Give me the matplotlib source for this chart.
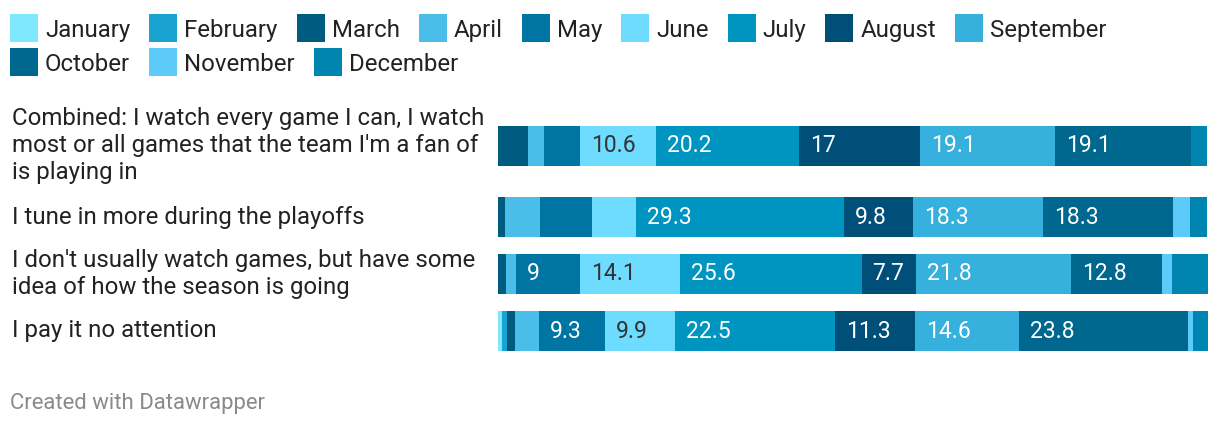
import matplotlib.pyplot as plt
from matplotlib.patches import Rectangle
from matplotlib.colors import to_rgb

plt.rcParams['font.family'] = ['Roboto', 'DejaVu Sans']

# DATA
months = ["January", "February", "March", "April", "May", "June", "July",
          "August", "September", "October", "November", "December"]
colors = ["#7fe8ff", "#1aa3d0", "#005b80", "#4abde9", "#0074a2", "#6ddcff",
          "#0094c0", "#004f78", "#36b0dc", "#00678f", "#5ccbfa", "#0084b0"]

categories = [
    "Combined: I watch every game I can, I watch\nmost or all games that the team I'm a fan of\nis playing in",
    "I tune in more during the playoffs",
    "I don't usually watch games, but have some\nidea of how the season is going",
    "I pay it no attention",
]

# one list per answer, January..December (percent)
combined = [0, 0, 4.2, 2.3, 5.1, 10.6, 20.2, 17, 19.1, 19.1, 0, 2.3]
playoffs = [0, 0, 1.0, 4.9, 7.3, 6.2, 29.3, 9.8, 18.3, 18.3, 2.3, 2.5]
some_idea = [0, 0, 1.1, 1.4, 9, 14.1, 25.6, 7.7, 21.8, 12.8, 1.4, 5.1]
no_attention = [0.5, 0.8, 1.1, 3.4, 9.3, 9.9, 22.5, 11.3, 14.6, 23.8, 0.7, 2.1]
values = [combined, playoffs, some_idea, no_attention]

W, H = 1220, 428
fig = plt.figure(figsize=(W / 100, H / 100), dpi=100)

# overlay axes in pixel coordinates for text and legend
ov = fig.add_axes([0, 0, 1, 1])
ov.set_xlim(0, W)
ov.set_ylim(H, 0)
ov.axis('off')

# bar axes
bx0, bx1 = 498, 1208
ax = fig.add_axes([bx0 / W, 0, (bx1 - bx0) / W, 1])
ax.set_xlim(0, 100)
ax.set_ylim(H, 0)
ax.axis('off')

renderer = fig.canvas.get_renderer()

# legend, flowing layout
lx, ly = 10, 28
for i, (m, c) in enumerate(zip(months, colors)):
    if i == 9:
        lx, ly = 10, 62
    ov.add_patch(Rectangle((lx, ly - 14), 28, 28, color=c, lw=0))
    t = ov.text(lx + 35, ly, m, fontsize=17.3, color="#222222", va='center_baseline', ha='left')
    bb = t.get_window_extent(renderer)
    lx = lx + 35 + bb.width + 19

# rows: height depends on the number of label lines
line_h = 29
bar_h = 40
gap = 8
y = 102
label_fs = 17.3
value_fs = 16.5


def luminance(c):
    r, g, b = to_rgb(c)
    return 0.2126 * r + 0.7152 * g + 0.0722 * b


for cat, vals in zip(categories, values):
    n = cat.count("\n") + 1
    block = max(bar_h, n * line_h)
    yc = y + block / 2
    ov.text(12, yc, cat, fontsize=label_fs, color="#222222", va='center', ha='left',
            linespacing=1.2)
    left = 0
    for v, c in zip(vals, colors):
        if v <= 0:
            continue
        ax.barh(yc, v, left=left, height=bar_h, color=c, lw=0)
        if v >= 7.5:
            tc = "#333333" if luminance(c) > 0.7 else "white"
            ax.annotate(f"{v:g}", (left, yc), xytext=(11, 0), textcoords='offset pixels',
                        va='center', ha='left', fontsize=value_fs, color=tc)
        left += v
    y += block + gap

ov.text(10, 403, "Created with Datawrapper", fontsize=15.9, color="#8a8a8a",
        va='center', ha='left')

fig.savefig("out.png", dpi=100)
